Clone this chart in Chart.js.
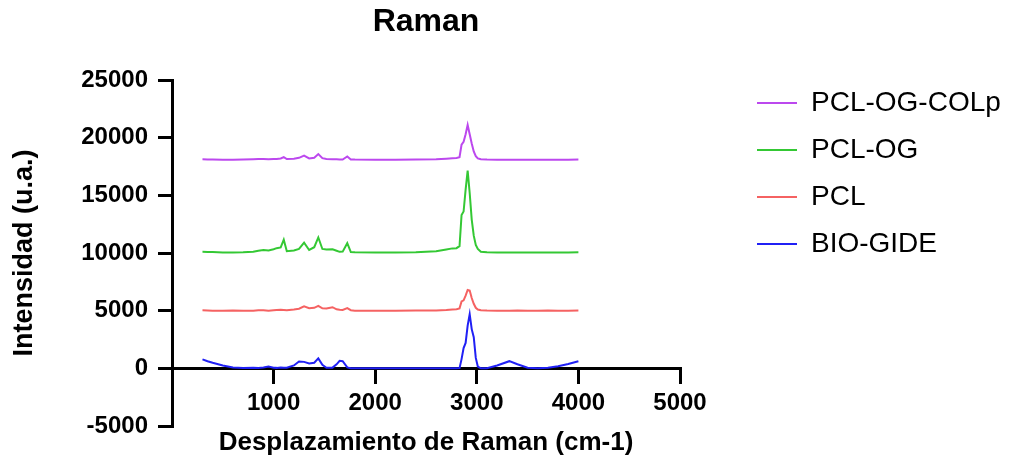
<!DOCTYPE html>
<html>
<head>
<meta charset="utf-8">
<title>Raman</title>
<script src="https://cdn.jsdelivr.net/npm/chart.js@4"></script>
<style>
  html, body { margin: 0; padding: 0; background: #fff; }
</style>
</head>
<body>
<canvas id="ramanChart" width="1013" height="463"></canvas>
<script>
// Raman shift (cm-1) shared by all spectra
const shift = [300, 350, 400, 500, 600, 700, 800, 850, 900, 950,
  1000, 1030, 1070, 1100, 1130, 1200, 1250, 1300, 1350, 1400,
  1440, 1480, 1520, 1580, 1620, 1650, 1680, 1725, 1760, 1800,
  2000, 2200, 2400, 2600, 2700, 2760, 2800, 2830, 2850, 2870,
  2890, 2910, 2930, 2950, 2970, 2990, 3010, 3040, 3100, 3200,
  3320, 3400, 3500, 3600, 3700, 3800, 3900, 4000];

const pclOgColp = [18120, 18110, 18100, 18090, 18080, 18100, 18130, 18140, 18150, 18130,
  18140, 18150, 18200, 18320, 18150, 18170, 18250, 18440, 18200, 18260,
  18580, 18220, 18150, 18130, 18120, 18110, 18110, 18370, 18110, 18100,
  18090, 18090, 18100, 18130, 18180, 18220, 18240, 18300, 19400, 19650,
  20300, 21100, 20300, 19500, 18800, 18400, 18200, 18130, 18100, 18090,
  18090, 18080, 18090, 18080, 18090, 18080, 18090, 18100];

const pclOg = [10100, 10090, 10080, 10050, 10040, 10060, 10100, 10200, 10250, 10220,
  10330, 10420, 10480, 11150, 10150, 10220, 10350, 10900, 10260, 10500,
  11350, 10350, 10300, 10320, 10200, 10100, 10120, 10850, 10080, 10060,
  10040, 10040, 10060, 10150, 10300, 10400, 10420, 10600, 13300, 13600,
  15500, 17150, 15200, 12900, 11500, 10700, 10350, 10100, 10060, 10040,
  10050, 10040, 10050, 10040, 10050, 10040, 10050, 10060];

const pcl = [5030, 5020, 5000, 5000, 5010, 4990, 5000, 5030, 5040, 5000,
  5030, 5050, 5080, 5060, 5040, 5100, 5170, 5380, 5220, 5250,
  5420, 5200, 5180, 5300, 5120, 5080, 5060, 5220, 5040, 5000,
  5000, 5000, 5010, 5020, 5060, 5100, 5130, 5200, 5800, 5900,
  6300, 6800, 6750, 6100, 5600, 5250, 5100, 5030, 5010, 5000,
  5000, 5010, 5000, 5000, 5010, 5000, 5000, 5010];

const bioGide = [780, 620, 480, 250, 80, 20, 60, 30, 80, 150,
  60, 40, 80, 60, 50, 250, 600, 560, 420, 480,
  860, 300, 50, 60, 350, 650, 620, 80, 0, 0,
  0, 0, 0, 0, 0, 0, 0, 20, 800, 1750,
  2200, 3700, 4700, 3400, 2700, 900, 150, 0, 0, 250,
  620, 350, 60, 0, 50, 180, 380, 620];

const xTicks = [0, 1000, 2000, 3000, 4000, 5000];
const yTicks = [-5000, 0, 5000, 10000, 15000, 20000, 25000];

Chart.defaults.font.family = "'Liberation Sans', Arial, sans-serif";
Chart.defaults.color = '#000';

const toPoints = ys => shift.map((x, i) => ({x: x, y: ys[i]}));

const ctx = document.getElementById('ramanChart').getContext('2d');
const ramanChart = new Chart(ctx, {
  type: 'line',
  data: {
    datasets: [
      {label: 'PCL-OG-COLp', data: toPoints(pclOgColp), borderColor: 'rgb(188, 72, 238)', backgroundColor: 'rgb(188, 72, 238)', borderWidth: 2},
      {label: 'PCL-OG', data: toPoints(pclOg), borderColor: 'rgb(52, 200, 52)', backgroundColor: 'rgb(52, 200, 52)', borderWidth: 2},
      {label: 'PCL', data: toPoints(pcl), borderColor: 'rgb(245, 98, 98)', backgroundColor: 'rgb(245, 98, 98)', borderWidth: 2},
      {label: 'BIO-GIDE', data: toPoints(bioGide), borderColor: 'rgb(32, 32, 245)', backgroundColor: 'rgb(32, 32, 245)', borderWidth: 2}
    ]
  },
  options: {
    responsive: false,
    animation: false,
    // the x axis sits at y = 0, so its own height is not counted by the layout
    layout: {padding: {top: 0, left: 0, right: 10, bottom: 37}},
    elements: {
      point: {radius: 0},
      line: {borderWidth: 2, tension: 0}
    },
    scales: {
      x: {
        type: 'linear',
        position: {y: 0},
        min: xTicks[0],
        max: xTicks[xTicks.length - 1],
        border: {color: '#000', width: 3},
        grid: {drawOnChartArea: false, color: '#000', lineWidth: 3, tickLength: 14},
        ticks: {
          stepSize: 1000,
          padding: 7,
          font: {size: 24, weight: 'bold'},
          callback: v => v === 0 ? '' : String(v)
        },
        title: {
          display: true,
          text: 'Desplazamiento de Raman (cm-1)',
          font: {size: 26, weight: 'bold'},
          padding: 0
        },
        afterFit: s => { s.height = 90; }
      },
      y: {
        min: yTicks[0],
        max: yTicks[yTicks.length - 1],
        border: {color: '#000', width: 3},
        grid: {drawOnChartArea: false, color: '#000', lineWidth: 3, tickLength: 14},
        ticks: {
          stepSize: 5000,
          padding: 10,
          font: {size: 24, weight: 'bold'},
          callback: v => String(v)
        },
        title: {
          display: true,
          text: 'Intensidad (u.a.)',
          font: {size: 27, weight: 'bold'},
          padding: {top: 8, bottom: 0}
        },
        afterFit: s => { s.width = 172; }
      },
      // empty spacer between plot and legend
      gap: {
        position: 'right',
        grid: {display: false},
        border: {display: false},
        ticks: {display: false},
        afterFit: s => { s.width = 58; }
      }
    },
    plugins: {
      title: {
        display: true,
        text: 'Raman',
        fullSize: false,
        font: {size: 32, weight: 'bold'},
        padding: {top: 3, bottom: 38.6}
      },
      legend: {
        position: 'right',
        align: 'start',
        maxWidth: 265,
        title: {display: true, text: '', font: {size: 10}, padding: {top: 58, bottom: 0}},
        labels: {
          usePointStyle: true,
          pointStyle: 'line',
          pointStyleWidth: 40,
          padding: 19,
          font: {size: 28}
        }
      },
      tooltip: {enabled: false}
    }
  }
});
</script>
</body>
</html>
